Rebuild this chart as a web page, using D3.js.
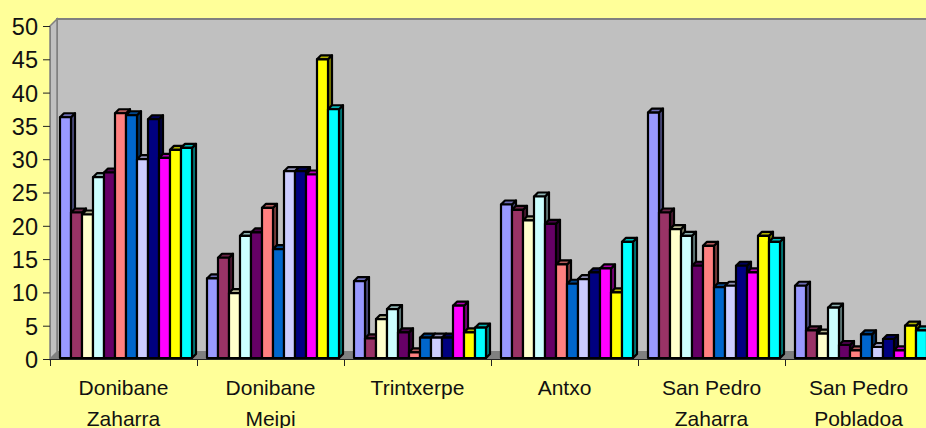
<!DOCTYPE html>
<html>
<head>
<meta charset="utf-8">
<script src="https://cdn.jsdelivr.net/npm/d3@7"></script>
<style>
  html, body { margin: 0; padding: 0; background: #FFFF99; overflow: hidden; }
  text { font-family: "Liberation Sans", Arial, sans-serif; fill: #111; }
</style>
</head>
<body>
<div id="chart"></div>
<script>
const categories = ["Donibane Zaharra", "Donibane Meipi", "Trintxerpe", "Antxo", "San Pedro Zaharra", "San Pedro Pobladoa"];
const seriesColors = ["#9999FF", "#993366", "#FFFFCC", "#CCFFFF", "#660066", "#FF8080", "#0066CC", "#CCCCFF", "#000080", "#FF00FF", "#FFFF00", "#00FFFF"];
const donibaneZaharra = [36.3, 22, 21.7, 27.3, 28, 36.9, 36.6, 30, 36, 30.2, 31.4, 31.7];
const donibaneMeipi = [12.1, 15.2, 9.9, 18.5, 19, 22.7, 16.5, 28.2, 28.2, 27.7, 45, 37.5];
const trintxerpe = [11.7, 3.1, 6, 7.5, 4, 1, 3.2, 3.2, 3.2, 8, 4, 4.7];
const antxo = [23.2, 22.4, 20.8, 24.4, 20.3, 14.2, 11.3, 12, 13, 13.6, 10, 17.6];
const sanPedroZaharra = [37, 22, 19.5, 18.5, 14, 17, 10.8, 11, 14, 13, 18.5, 17.6];
const sanPedroPobladoa = [11, 4.3, 3.8, 7.7, 2.1, 1.3, 3.7, 1.8, 3, 1.3, 5, 4.3];
const groups = [donibaneZaharra, donibaneMeipi, trintxerpe, antxo, sanPedroZaharra, sanPedroPobladoa];
const yTicks = d3.range(0, 51, 5);

const width = 926, height = 428;
const depth = 7; // 3d offset of the back wall
const barDepth = 4;

const svg = d3.select("#chart")
  .append("svg")
  .attr("width", width)
  .attr("height", height)
  .style("display", "block");

const y = d3.scaleLinear().domain([0, 50]).range([359, 26]);
const x0 = d3.scaleBand().domain(d3.range(categories.length)).range([50, 932]);
const x1 = d3.scaleBand().domain(d3.range(seriesColors.length)).range([10, 142]);
const xEdge = d3.scaleLinear().domain([0, categories.length]).range([50, 932]);

// =========================
// WALLS
// =========================
const x50 = x0.range()[0], x51 = x0.range()[1];
const poly = pts => pts.map(p => p.join(",")).join(" ");

svg.append("polygon")
  .attr("points", poly([[x50 + depth, y(50) - depth], [x51, y(50) - depth], [x51, y(0) - depth], [x50 + depth, y(0) - depth]]))
  .attr("fill", "#C0C0C0")
  .attr("stroke", "#808080")
  .attr("stroke-width", 2);

svg.append("polygon")
  .attr("points", poly([[x50, y(50)], [x50 + depth, y(50) - depth], [x50 + depth, y(0) - depth], [x50, y(0)]]))
  .attr("fill", "#C0C0C0")
  .attr("stroke", "#808080")
  .attr("stroke-width", 1.5);

svg.append("polygon")
  .attr("points", poly([[x50, y(0)], [x50 + depth, y(0) - depth], [x51, y(0) - depth], [x51, y(0)]]))
  .attr("fill", "#808080");

// =========================
// BARS
// =========================
const shade = (c, k) => {
  const rgb = d3.rgb(c);
  return d3.rgb(rgb.r * k, rgb.g * k, rgb.b * k).formatHex();
};

groups.forEach((vals, g) => {
  vals.forEach((v, s) => {
    const bar = svg.append("g").attr("stroke", "#000").attr("stroke-width", 2.2).attr("stroke-linejoin", "round");
    const l = x0(g) + x1(s), r = l + x1.bandwidth(), t = y(v), b = y(0) - 1;
    const c = seriesColors[s];
    bar.append("polygon")
      .attr("points", poly([[r, t], [r + barDepth, t - barDepth], [r + barDepth, b - barDepth], [r, b]]))
      .attr("fill", shade(c, 0.5));
    bar.append("polygon")
      .attr("points", poly([[l, t], [l + barDepth, t - barDepth], [r + barDepth, t - barDepth], [r, t]]))
      .attr("fill", shade(c, 0.7));
    bar.append("rect")
      .attr("x", l).attr("y", t)
      .attr("width", r - l).attr("height", b - t)
      .attr("fill", c);
  });
});

// =========================
// AXES
// =========================
const yAxis = svg.append("g")
  .attr("transform", `translate(${x50},0)`)
  .call(d3.axisLeft(y).tickValues(yTicks).tickSize(7).tickPadding(5));
yAxis.selectAll("text").style("font-size", "23.5px").attr("dy", "0.36em");
yAxis.selectAll("line, path").attr("stroke", "#222");
yAxis.select("path").attr("stroke", "#808080");

const xAxis = svg.append("g")
  .attr("transform", `translate(0,${y(0)})`)
  .call(d3.axisBottom(xEdge).tickValues(d3.range(categories.length + 1)).tickSize(7).tickFormat(""));
xAxis.selectAll("line, path").attr("stroke", "#222");

// category labels wrap after the place name
svg.selectAll(".cat")
  .data(categories)
  .join("text")
  .attr("class", "cat")
  .attr("text-anchor", "middle")
  .style("font-size", "21px")
  .each(function(d, i) {
    const words = d.startsWith("San") ? [d.split(" ").slice(0, 2).join(" "), d.split(" ")[2]] : d.split(" ");
    d3.select(this).selectAll("tspan")
      .data(words)
      .join("tspan")
      .attr("x", x0(i) + x0.bandwidth() / 2)
      .attr("y", (w, k) => 395 + k * 31)
      .text(w => w);
  });
</script>
</body>
</html>
